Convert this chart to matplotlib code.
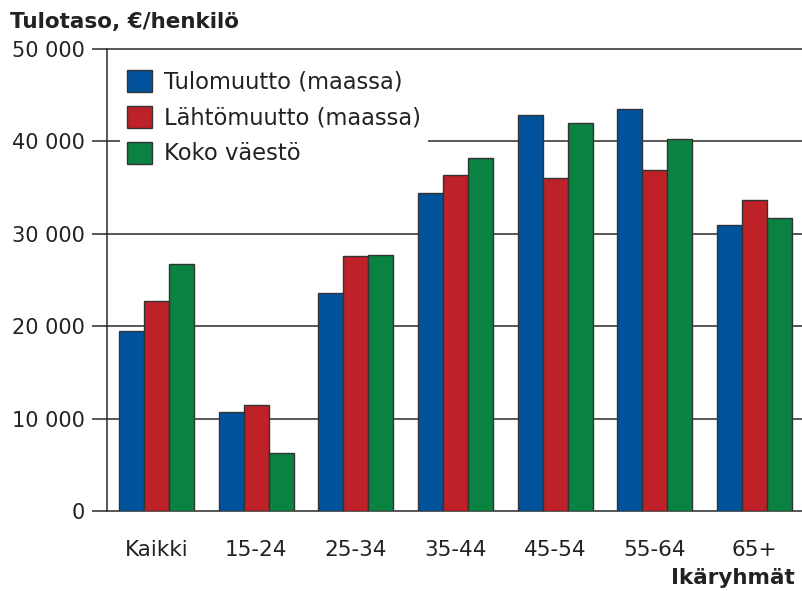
import matplotlib
matplotlib.use("Agg")
import matplotlib.pyplot as plt
import numpy as np
from matplotlib.patches import Patch

categories = ["Kaikki", "15-24", "25-34", "35-44", "45-54", "55-64", "65+"]
series_names = ["Tulomuutto (maassa)", "Lähtömuutto (maassa)", "Koko väestö"]
tulomuutto = [19500, 10700, 23600, 34400, 42900, 43500, 31000]
lahtomuutto = [22700, 11500, 27600, 36400, 36000, 36900, 33700]
koko_vaesto = [26700, 6300, 27700, 38200, 42000, 40300, 31700]
yticks = [0, 10000, 20000, 30000, 40000, 50000]
ytick_labels = ["0", "10 000", "20 000", "30 000", "40 000", "50 000"]

colors = ["#00529b", "#be2128", "#0a8241"]
edge = "#333333"

W, H = 803, 591
fig = plt.figure(figsize=(W / 100, H / 100), dpi=100)
ax = fig.add_axes([107 / W, 1 - 511 / H, 1 - 107 / W, (511 - 49) / H])

x = np.arange(len(categories))
bw = 0.251
for i, (vals, c) in enumerate(zip([tulomuutto, lahtomuutto, koko_vaesto], colors)):
    ax.bar(x + (i - 1) * bw, vals, width=bw, color=c, edgecolor=edge,
           linewidth=1.0, zorder=3)

ax.set_xlim(-0.497, 6.487)
ax.set_ylim(0, 50000)
ax.set_yticks(yticks)
ax.set_yticklabels(ytick_labels)
for y in yticks:
    ax.axhline(y, color="#2a2a2a", linewidth=1.1, zorder=1, clip_on=False)

for s in ["top", "right", "bottom"]:
    ax.spines[s].set_visible(False)
ax.spines["left"].set_color("#2a2a2a")
ax.spines["left"].set_linewidth(1.1)

ax.tick_params(axis="y", length=11, width=1.1, color="#2a2a2a", pad=5,
               labelsize=15, labelcolor="#222222")
ax.set_xticks(x)
ax.set_xticklabels(categories)
ax.tick_params(axis="x", length=0, pad=21, labelsize=15.5, labelcolor="#222222")

handles = [Patch(facecolor=c, edgecolor=edge, linewidth=1.0) for c in colors]
leg = ax.legend(handles, series_names, loc="upper left",
                bbox_to_anchor=(13 / 696, 1 - 14 / 462), frameon=True,
                fontsize=16.3, handlelength=1.1, handleheight=1.1,
                handletextpad=0.55, labelspacing=0.55, borderpad=0.3,
                borderaxespad=0)
leg.get_frame().set_facecolor("white")
leg.get_frame().set_edgecolor("none")
leg.get_frame().set_alpha(1)
for t in leg.get_texts():
    t.set_color("#222222")

fig.text(10 / W, 1 - 22 / H, "Tulotaso, €/henkilö", fontsize=15.5,
         fontweight="bold", color="#222222", ha="left", va="center")
fig.text(795 / W, 1 - 578 / H, "Ikäryhmät", fontsize=15.5,
         fontweight="bold", color="#222222", ha="right", va="center")

fig.savefig("out.png", dpi=100)
